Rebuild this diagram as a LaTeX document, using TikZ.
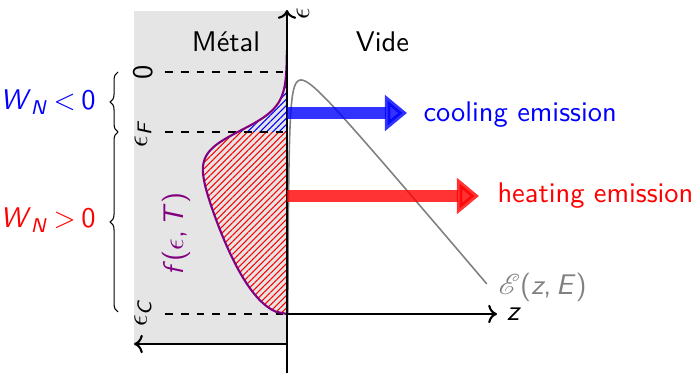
\documentclass[tikz,border=0pt]{standalone}
\usepackage{amsmath,amssymb}
\usepackage{mathrsfs}
\usepackage{xcolor}
\usepackage{tikz}
\usetikzlibrary{arrows.meta,calc,decorations.pathreplacing,patterns.meta}
\definecolor{coolblue}{HTML}{0000FF}
\definecolor{heatred}{HTML}{FF0000}
\definecolor{fermiviolet}{HTML}{800080}
\newcommand{\eps}{\ensuremath{\epsilon}}
\newcommand{\WN}{\textit{W}\textsubscript{\textit{N}}}

\begin{document}
\begin{tikzpicture}[
    x=3.8pt, y=3.8pt,
    every node/.style={font=\sffamily\fontsize{10.8}{13}\selectfont, inner sep=0pt},
    declare function={fermi(\e)=-2.31*sqrt(\e)/(1+exp((\e-18.2)/1.2));
                      barrier(\t)=26.7-1.18*\t*\t-2.31/(\t*\t);},
    axis/.style={thick, ->},
    level/.style={dashed},
    tick/.style={rotate=90},
    flux/.style={line width=4.6pt, opacity=0.8, -{Triangle[length=8.4pt, width=13.3pt]}},
    hatch/.style={pattern={Lines[angle=45, distance=1.7pt, line width=0.4pt]}},
    bracket/.style={decorate, decoration={brace, amplitude=3pt}}
]
\useasboundingbox (-28.7,-5.9) rectangle (40.6,31.4);
% metal side
\fill[gray!20] (-15.3,-3) rectangle (0,30.3);
\coordinate (eC) at (0,0);
\coordinate (eF) at (0,18.2);
\coordinate (eZ) at (0,24.2);

% filled states
\fill[hatch, pattern color=heatred] plot[domain=0:18.2, samples=60, variable=\e] ({fermi(\e)}, \e) -- (eF) -- cycle;
\fill[hatch, pattern color=coolblue] plot[domain=18.2:24.2, samples=30, variable=\e] ({fermi(\e)}, \e) -- (eZ) -- (eF) -- cycle;

% levels
\node[tick] (tC) at (-14.4,0.1) {\eps\textsubscript{\textit{C}}};
\node[tick] (tF) at (-14.4,18.0) {\eps\textsubscript{\textit{F}}};
\node[tick] (tZ) at (-14.4,24.2) {0};
\coordinate (lC) at (-12.2,0);
\coordinate (lF) at (-12.2,18.2);
\coordinate (lZ) at (-12.2,24.2);
\draw[level] (lC) -- (eC);
\draw[level] (lF) -- (eF);
\draw[level] (lZ) -- (eZ);

% curves
\draw[fermiviolet, thick] plot[domain=0:26.4, samples=120, variable=\e] ({fermi(\e)}, \e);
\draw[gray, semithick] plot[domain=0.295:4.47, samples=150, variable=\t] ({\t*\t}, {barrier(\t)});

% axes
\coordinate (ebot) at (0,-5.9);
\coordinate (etop) at (0,30.4);
\coordinate (zend) at (21,0);
\coordinate (fstart) at (0,-3);
\coordinate (fend) at (-15.3,-3);
\draw[axis] (ebot) -- (etop);
\draw[axis] (eC) -- (zend);
\draw[axis] (fstart) -- (fend);
\node[tick] (elab) at (1.6,30.0) {\eps};
\node (zlab) at (22.7,0) {\textit{z}};

% emission
\coordinate (coolA) at (0,20.1);
\coordinate (coolB) at (12,20.1);
\coordinate (heatA) at (0,11.8);
\coordinate (heatB) at (19.2,11.8);
\draw[flux, coolblue] (coolA) -- (coolB);
\draw[flux, heatred] (heatA) -- (heatB);
\node[anchor=base west, text=coolblue] (cool) at (13.6,19.2) {cooling emission};
\node[anchor=base west, text=heatred] (heat) at (21.0,11.1) {heating emission};

% labels
\node[anchor=base] (metal) at (-6.1,26.2) {Métal};
\node[anchor=base] (vide) at (9.55,26.2) {Vide};
\node[tick, text=fermiviolet] (flab) at (-11.1,8.0) {\textit{f}(\eps,\,\textit{T})};
\node[anchor=base west, text=gray] (blab) at (21.1,1.9) {$\mathscr{E}$(\textit{z},\,\textit{E})};

% brackets
\coordinate (bZ) at (-16.9,24.2);
\coordinate (bF) at (-16.9,18.2);
\coordinate (bC) at (-16.9,0.2);
\draw[bracket] (bF) -- (bZ);
\draw[bracket] (bC) -- (bF);
\node[text=coolblue] (wneg) at (-23.9,21.2) {\WN{}\hspace{0.2em}<\hspace{0.2em}0};
\node[text=heatred] (wpos) at (-23.9,9.4) {\WN{}\hspace{0.2em}>\hspace{0.2em}0};
\end{tikzpicture}
\end{document}
